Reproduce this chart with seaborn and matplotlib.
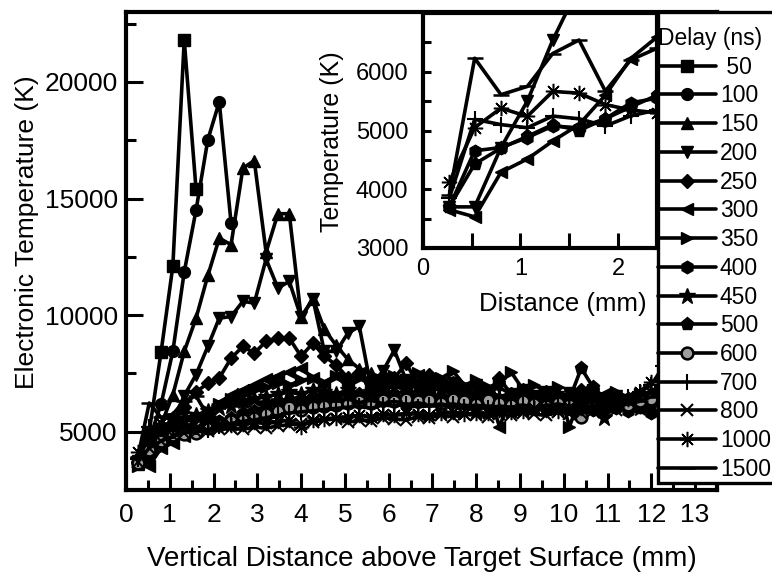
import matplotlib
matplotlib.use("Agg")
import matplotlib.pyplot as plt
from matplotlib.lines import Line2D
from matplotlib.patches import Rectangle
from matplotlib.ticker import MultipleLocator, FixedLocator
import seaborn as sns

# Measurement positions above the target surface (mm)
distance_mm = [0.27, 0.53, 0.80, 1.07, 1.33, 1.60, 1.87, 2.13, 2.40, 2.67,
               2.93, 3.20, 3.47, 3.73, 4.00, 4.27, 4.53, 4.80, 5.07, 5.33,
               5.60, 5.87, 6.13, 6.40, 6.67, 6.93, 7.20, 7.47, 7.73, 8.00,
               8.27, 8.53, 8.80, 9.07, 9.33, 9.60, 9.87, 10.13, 10.40, 10.67,
               10.93, 11.20, 11.47, 11.73, 12.00, 12.27, 12.53]

delays_ns = ["50", "100", "150", "200", "250", "300", "350", "400",
             "450", "500", "600", "700", "800", "1000", "1500"]

# Electronic temperature (K) for each gate delay
temp_50 = [3750, 5000, 8400, 12100, 21800, 15400]
temp_100 = [3650, 4650, 6170, 8450, 11850, 14500, 17530, 19140, 13950]
temp_150 = [3600, 4300, 5300, 6580, 8440, 9870, 11700, 13300, 13020, 16300,
            16630, 12700, 14350, 14350, 9900, 10700, 9400, 8700, 8100, 7700,
            7500, 7300, 7150, 7000, 6900, 7100, 6800, 6950, 6700, 6600,
            6800, 6500, 6650, 6400, 6550, 6300, 6450, 6200, 6500, 6300,
            6400, 6200, 6350, 6100, 6400, 6200, 6300]
temp_200 = [3700, 3700, 4710, 5500, 6535, 7450, 8660, 9870, 9940, 10590,
            10515, 12400, 11160, 11450, 9900, 10700, 8450, 8440, 9230, 9515,
            6870, 7600, 8500, 7200, 7000, 7250, 6900, 7100, 6850, 7000,
            6700, 6900, 6600, 6800, 6550, 6700, 6500, 6650, 6450, 6600,
            6400, 6550, 6350, 6500, 6300, 6450, 6400]
temp_250 = [3700, 4400, 5000, 5600, 6050, 6700, 7080, 7300, 8150, 8660,
            8370, 8870, 9010, 9010, 8230, 8800, 8230, 7870, 7300, 7500,
            7100, 7400, 7300, 7940, 7000, 7450, 6900, 7100, 6800, 6950,
            6700, 7300, 6600, 6800, 6500, 6700, 6500, 6400, 6800, 6600,
            6300, 6500, 6400, 6200, 6600, 6300, 6400]
temp_300 = [3650, 3530, 4290, 4515, 4820, 5100, 5600, 6225, 6590, 6800,
            7000, 7250, 7400, 7550, 7725, 7300, 7100, 7400, 6900, 7500,
            7000, 6800, 7100, 6900, 7450, 6800, 7000, 6700, 6900, 6600,
            6800, 5220, 6500, 6700, 6400, 6600, 6300, 6500, 6700, 6400,
            6600, 6300, 6500, 6200, 6700, 6900, 7300]
temp_350 = [3550, 3900, 4300, 4700, 5100, 5500, 5900, 6200, 6400, 6600,
            6800, 6900, 7100, 7000, 7200, 7300, 7100, 7400, 7200, 7300,
            7000, 7100, 7400, 7200, 7500, 7100, 7300, 7600, 7000, 7200,
            6900, 7100, 7550, 6800, 7000, 6700, 6900, 5220, 6600, 6800,
            6500, 6700, 6400, 6600, 6300, 6500, 6700]
temp_400 = [3700, 4655, 4710, 4880, 5075, 5047, 5200, 5470, 5550, 5700,
            5800, 5900, 6000, 6100, 6150, 6250, 6200, 6350, 6300, 6250,
            6400, 6300, 6350, 6200, 6400, 6300, 6250, 6350, 6200, 6300,
            6150, 6250, 6100, 6200, 6050, 6150, 6000, 6100, 6050, 5950,
            6100, 6000, 5900, 6050, 5800, 5870, 5900]
temp_450 = [3800, 4500, 4900, 5200, 5500, 5700, 5900, 6000, 6100, 6300,
            6400, 6500, 6600, 6700, 6600, 6800, 6700, 6600, 6800, 6500,
            6700, 6600, 6400, 6600, 6500, 6700, 6400, 6600, 6500, 6300,
            6500, 6400, 6200, 6400, 6300, 6100, 6300, 6200, 6400, 6100,
            5580, 6200, 6300, 6000, 6200, 6100, 6300]
temp_500 = [3700, 4430, 4700, 4900, 5100, 5000, 5200, 5400, 5600, 5800,
            5900, 6100, 6200, 6300, 6400, 6500, 6600, 6500, 6700, 6600,
            6500, 6700, 6600, 6400, 6600, 6500, 6400, 6600, 6300, 6500,
            6400, 6200, 6400, 6300, 6100, 6300, 6200, 6400, 7725, 6900,
            6300, 6500, 6400, 6000, 6200, 6100, 6000]
temp_600 = [3650, 4200, 4600, 4880, 4900, 4940, 5150, 5300, 5440, 5510,
            5600, 5740, 5900, 6040, 5940, 6080, 6100, 6150, 6220, 6300,
            6250, 6350, 6300, 6400, 6300, 6350, 6250, 6400, 6300, 6200,
            6350, 6250, 6150, 6300, 6200, 6100, 6250, 6150, 5650, 6200,
            6100, 6250, 6150, 6300, 6400, 6500, 6600]
temp_700 = [3850, 5190, 5100, 5047, 5245, 5200, 5075, 5250, 5350, 5450,
            5500, 5600, 5700, 5800, 5850, 5900, 5950, 6000, 6050, 6100,
            6000, 6150, 6100, 6200, 6050, 6150, 6100, 6200, 6050, 6150,
            6000, 6100, 6050, 6150, 6000, 6100, 6200, 6050, 6150, 6300,
            6200, 6350, 6500, 6700, 7000, 7800, 7900]
temp_800 = [3700, 4300, 4600, 4800, 4950, 5000, 5050, 5100, 5150, 5100,
            5200, 5150, 5250, 5300, 5350, 5400, 5500, 5550, 5400, 5500,
            5450, 5600, 5550, 5500, 5650, 5600, 5700, 5650, 5750, 5700,
            5650, 5750, 5700, 5800, 5750, 5700, 5850, 5750, 5800, 5900,
            5850, 5950, 6300, 6500, 6700, 6900, 7100]
temp_1000 = [4120, 5050, 5380, 5240, 5665, 5636, 5441, 5350, 5300, 5350,
             5400, 5365, 5450, 5500, 5220, 5500, 5550, 5600, 5650, 5700,
             5650, 5750, 5700, 5800, 5750, 5700, 5800, 5850, 5750, 5800,
             5800, 5950, 5850, 5900, 6000, 5950, 5900, 6050, 6000, 6100,
             6050, 6200, 6400, 6700, 7150, 7300, 7400]
temp_1500 = [3900, 6230, 5610, 5750, 6310, 6540, 5670, 6200, 6400, 6100,
             6300, 6200, 6400, 6300, 6500, 6350, 6450, 6300, 6400, 6250,
             6350, 6200, 6300, 6150, 6250, 6100, 6200, 6050, 6150, 6000,
             6100, 6050, 5950, 6100, 6000, 6150, 6050, 6100, 6200, 6000,
             6150, 6050, 6200, 6300, 6500, 6600, 6700]

series = [temp_50, temp_100, temp_150, temp_200, temp_250, temp_300, temp_350,
          temp_400, temp_450, temp_500, temp_600, temp_700, temp_800,
          temp_1000, temp_1500]

# Delays shown in the close-up of the first 2.4 mm
inset_delays = ["200", "300", "400", "500", "700", "1000", "1500"]

# marker, size, face colour, edge width
styles = {
    "50": ("s", 8, "black", 1.0),
    "100": ("o", 8.5, "black", 1.0),
    "150": ("^", 9, "black", 1.0),
    "200": ("v", 9, "black", 1.0),
    "250": ("D", 7.5, "black", 1.0),
    "300": ("<", 9, "black", 1.0),
    "350": (">", 9, "black", 1.0),
    "400": ("h", 9, "black", 1.0),
    "450": ("*", 12, "black", 1.0),
    "500": ("p", 9.5, "black", 1.0),
    "600": ("o", 8.5, "0.62", 1.8),
    "700": ("+", 11, "black", 1.5),
    "800": ("x", 9, "black", 1.5),
    "1000": ((8, 2, 0), 11, "black", 1.1),
    "1500": ("_", 12, "black", 1.8),
}
LW = 2.6

sns.set_theme(style="ticks", rc={
    "axes.edgecolor": "black", "xtick.color": "black", "ytick.color": "black",
    "text.color": "black", "axes.labelcolor": "black",
})
plt.rcParams["font.family"] = ["Liberation Sans", "DejaVu Sans"]

W, H = 772, 576
fig = plt.figure(figsize=(W / 100, H / 100), dpi=100)
fig.patch.set_facecolor("white")

ax = fig.add_axes([126 / W, 1 - 490 / H, (717 - 126) / W, (490 - 12) / H])
ins = fig.add_axes([423 / W, 1 - 248 / H, (657 - 423) / W, (248 - 13) / H])


def draw(axis, label, values):
    marker, ms, fc, mew = styles[label]
    sns.lineplot(x=distance_mm[:len(values)], y=values, ax=axis,
                 color="black", marker=marker, markersize=ms,
                 markerfacecolor=fc, markeredgecolor="black",
                 markeredgewidth=mew, linewidth=LW, legend=False,
                 sort=False, estimator=None, errorbar=None)


for label, values in zip(delays_ns, series):
    draw(ax, label, values)
for label, values in zip(delays_ns, series):
    if label in inset_delays:
        draw(ins, label, values)

# main axes
ax.set_xlim(0, 13.5)
ax.set_ylim(2500, 23000)
ax.xaxis.set_major_locator(MultipleLocator(1))
ax.xaxis.set_minor_locator(MultipleLocator(0.5))
ax.yaxis.set_major_locator(FixedLocator([5000, 10000, 15000, 20000]))
ax.yaxis.set_minor_locator(MultipleLocator(2500))
ax.tick_params(which="both", direction="in", top=False, right=False, width=2.2)
ax.tick_params(which="major", length=12.5, labelsize=19)
ax.tick_params(which="minor", length=7)
ax.tick_params(axis="x", which="major", pad=9.5)
ax.tick_params(axis="y", which="major", pad=6)
for sp in ax.spines.values():
    sp.set_linewidth(3)
ax.set_xlabel("Vertical Distance above Target Surface (mm)", fontsize=20)
ax.set_ylabel("Electronic Temperature (K)", fontsize=19)
ax.xaxis.set_label_coords(0.5, -0.117)
ax.yaxis.set_label_coords(-0.148, 0.54)

# close-up axes
ins.set_xlim(0, 2.4)
ins.set_ylim(3000, 7000)
ins.xaxis.set_major_locator(FixedLocator([0, 1, 2]))
ins.xaxis.set_minor_locator(FixedLocator([0.5, 1.5]))
ins.yaxis.set_major_locator(FixedLocator([3000, 4000, 5000, 6000]))
ins.yaxis.set_minor_locator(FixedLocator([3500, 4500, 5500, 6500]))
ins.tick_params(which="both", direction="in", top=False, right=False, width=2.2)
ins.tick_params(axis="x", which="both", length=11)
ins.tick_params(axis="y", which="both", length=6)
ins.tick_params(which="major", labelsize=17)
ins.tick_params(axis="x", which="major", pad=7.2)
ins.tick_params(axis="y", which="major", pad=10.5)
for sp in ins.spines.values():
    sp.set_linewidth(3)
ins.set_xlabel("Distance (mm)", fontsize=18.5)
ins.set_ylabel("Temperature (K)", fontsize=18)
ins.xaxis.set_label_coords(0.598, -0.187)
ins.yaxis.set_label_coords(-0.338, 0.453)

# legend panel on the right edge
frame = Rectangle((658 / W, 1 - 483 / H), 0.3, (483 - 12) / H,
                  transform=fig.transFigure, facecolor="white",
                  edgecolor="black", linewidth=2.4, zorder=4)
fig.patches.append(frame)

handles = []
for label in delays_ns:
    marker, ms, fc, mew = styles[label]
    handles.append(Line2D([], [], color="black", marker=marker, markersize=ms,
                          markerfacecolor=fc, markeredgecolor="black",
                          markeredgewidth=mew, linewidth=LW))
labels = [" " + d if len(d) == 2 else d for d in delays_ns]
leg = fig.legend(handles, labels, loc="upper left",
                 bbox_to_anchor=(658 / W, 1 - 27 / H),
                 frameon=False, borderpad=0, borderaxespad=0,
                 handlelength=2.55, handletextpad=0.15, labelspacing=0.25,
                 fontsize=16.5, title="Delay (ns)", title_fontsize=16.5,
                 alignment="left")
leg.set_zorder(5)

fig.savefig("out.png", dpi=100)
